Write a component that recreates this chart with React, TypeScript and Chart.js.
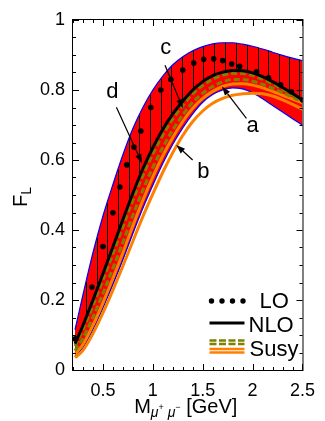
import React, { useEffect, useRef } from "react";
import { Chart, registerables } from "chart.js";

Chart.register(...registerables);

// ---------- data ----------
const X = [0.22, 0.3, 0.4, 0.5, 0.6, 0.7, 0.8, 0.9, 1.0, 1.1, 1.2, 1.3, 1.4, 1.5, 1.6, 1.7, 1.8, 1.9, 2.0, 2.1, 2.2, 2.3, 2.4, 2.5];
const BAND_UPPER = [0.115, 0.215, 0.335, 0.44, 0.53, 0.615, 0.69, 0.75, 0.8, 0.84, 0.872, 0.895, 0.912, 0.924, 0.932, 0.935, 0.935, 0.931, 0.925, 0.917, 0.908, 0.899, 0.891, 0.884];
const BAND_LOWER = [0.04, 0.064, 0.115, 0.177, 0.244, 0.315, 0.39, 0.462, 0.528, 0.59, 0.645, 0.692, 0.732, 0.765, 0.787, 0.8, 0.806, 0.803, 0.792, 0.775, 0.756, 0.737, 0.718, 0.7];
const NLO = [0.075, 0.128, 0.2, 0.275, 0.352, 0.43, 0.505, 0.575, 0.635, 0.688, 0.732, 0.768, 0.8, 0.824, 0.841, 0.851, 0.856, 0.855, 0.849, 0.838, 0.824, 0.807, 0.79, 0.772];
const SUSY_DASH_1 = [0.068, 0.116, 0.184, 0.257, 0.332, 0.409, 0.485, 0.555, 0.617, 0.671, 0.717, 0.755, 0.789, 0.813, 0.831, 0.842, 0.847, 0.847, 0.841, 0.831, 0.818, 0.802, 0.786, 0.77];
const SUSY_DASH_2 = [0.055, 0.091, 0.151, 0.219, 0.291, 0.365, 0.442, 0.514, 0.579, 0.636, 0.686, 0.729, 0.765, 0.791, 0.81, 0.823, 0.83, 0.83, 0.825, 0.816, 0.805, 0.792, 0.779, 0.766];
const SUSY_A = [0.045, 0.073, 0.128, 0.192, 0.262, 0.335, 0.412, 0.485, 0.552, 0.612, 0.664, 0.71, 0.748, 0.776, 0.796, 0.81, 0.817, 0.818, 0.814, 0.806, 0.796, 0.785, 0.774, 0.763];
const SUSY_B = [0.035, 0.056, 0.104, 0.163, 0.228, 0.297, 0.368, 0.438, 0.503, 0.565, 0.621, 0.67, 0.71, 0.74, 0.762, 0.776, 0.785, 0.789, 0.791, 0.789, 0.783, 0.772, 0.759, 0.745];

const LO_X = [0.22, 0.39, 0.5, 0.6, 0.67, 0.74, 0.81, 0.88, 0.98, 1.08, 1.18, 1.3, 1.41, 1.51, 1.61, 1.7, 1.79, 1.87, 2.04, 2.16, 2.28, 2.39, 2.5];
const LO_Y = [0.089, 0.237, 0.353, 0.449, 0.523, 0.586, 0.637, 0.683, 0.75, 0.8, 0.83, 0.857, 0.877, 0.888, 0.889, 0.884, 0.874, 0.868, 0.852, 0.835, 0.815, 0.795, 0.772];

const HATCH_X = [0.33, 0.44, 0.54, 0.65, 0.76, 0.86, 0.97, 1.08, 1.18, 1.29, 1.4, 1.5, 1.61, 1.72, 1.83, 1.94, 2.05, 2.15, 2.26, 2.36, 2.47];

const X_TICKS = [0.5, 1, 1.5, 2, 2.5];
const Y_TICKS = [0, 0.2, 0.4, 0.6, 0.8, 1];

// annotation arrows
const ARROW_LABELS = ["a", "b", "c", "d"];
const ARROW_LABEL_X = [2.0, 1.507, 1.129, 0.595];
const ARROW_LABEL_Y = [0.68, 0.549, 0.903, 0.777];
const ARROW_TAIL_X = [1.938, 1.399, 1.122, 0.635];
const ARROW_TAIL_Y = [0.719, 0.6, 0.871, 0.751];
const ARROW_TIP_X = [1.693, 1.235, 1.301, 0.892];
const ARROW_TIP_Y = [0.81, 0.643, 0.748, 0.591];

const RED = "#ff0000";
const BLUE = "#0000ff";
const OLIVE = "#808000";
const ORANGE = "#ff8000";
const FONT = "'Liberation Sans', Arial, Helvetica, sans-serif";

function pts(ys: number[]) {
  return X.map((x, i) => ({ x, y: ys[i] }));
}

function interp(xs: number[], ys: number[], x: number) {
  if (x <= xs[0]) return ys[0];
  for (let i = 1; i < xs.length; i++) {
    if (x <= xs[i]) {
      const t = (x - xs[i - 1]) / (xs[i] - xs[i - 1]);
      return ys[i - 1] + t * (ys[i] - ys[i - 1]);
    }
  }
  return ys[ys.length - 1];
}

function drawArrow(ctx: CanvasRenderingContext2D, x1: number, y1: number, x2: number, y2: number) {
  const ang = Math.atan2(y2 - y1, x2 - x1);
  const hl = 9;
  const hw = 3.2;
  const bx = x2 - hl * Math.cos(ang);
  const by = y2 - hl * Math.sin(ang);
  ctx.beginPath();
  ctx.moveTo(x1, y1);
  ctx.lineTo(bx, by);
  ctx.stroke();
  ctx.beginPath();
  ctx.moveTo(x2, y2);
  ctx.lineTo(bx + hw * Math.sin(ang), by - hw * Math.cos(ang));
  ctx.lineTo(bx - hw * Math.sin(ang), by + hw * Math.cos(ang));
  ctx.closePath();
  ctx.fill();
}

const decor = {
  id: "decor",
  afterDatasetDraw(chart: any, args: any) {
    if (args.index !== 0) return;
    const { ctx, chartArea: ca } = chart;
    const sx = chart.scales.x;
    const sy = chart.scales.y;
    ctx.save();
    ctx.beginPath();
    ctx.rect(ca.left, ca.top, ca.right - ca.left, ca.bottom - ca.top);
    ctx.clip();
    ctx.strokeStyle = "#000";
    ctx.lineWidth = 1;
    HATCH_X.forEach((hx) => {
      const px = Math.round(sx.getPixelForValue(hx)) + 0.5;
      ctx.beginPath();
      ctx.moveTo(px, sy.getPixelForValue(interp(X, BAND_UPPER, hx)));
      ctx.lineTo(px, sy.getPixelForValue(interp(X, NLO, hx)));
      ctx.stroke();
    });
    ctx.restore();
  },
  afterDraw(chart: any) {
    const { ctx, chartArea: ca } = chart;
    const sx = chart.scales.x;
    const sy = chart.scales.y;
    ctx.save();

    // frame
    ctx.strokeStyle = "#000";
    ctx.lineWidth = 1;
    ctx.strokeRect(ca.left - 0.5, ca.top - 0.5, ca.right - ca.left + 1, ca.bottom - ca.top + 1);

    // ticks (inward, all four sides)
    ctx.beginPath();
    for (let k = 0; k <= 20; k++) {
      const v = k * 0.05;
      const len = k % 4 === 0 ? 6 : 3;
      const py = Math.round(sy.getPixelForValue(v)) + 0.5;
      ctx.moveTo(ca.left, py);
      ctx.lineTo(ca.left + len, py);
      ctx.moveTo(ca.right, py);
      ctx.lineTo(ca.right - len, py);
    }
    for (let k = 2; k <= 25; k++) {
      const v = k * 0.1;
      const len = k % 5 === 0 ? 6 : 3;
      const px = Math.round(sx.getPixelForValue(v)) + 0.5;
      ctx.moveTo(px, ca.bottom);
      ctx.lineTo(px, ca.bottom - len);
      ctx.moveTo(px, ca.top);
      ctx.lineTo(px, ca.top + len);
    }
    ctx.stroke();

    // arrows and letters
    ctx.fillStyle = "#000";
    ctx.strokeStyle = "#000";
    ctx.lineWidth = 1.2;
    ARROW_LABELS.forEach((lab, i) => {
      drawArrow(
        ctx,
        sx.getPixelForValue(ARROW_TAIL_X[i]),
        sy.getPixelForValue(ARROW_TAIL_Y[i]),
        sx.getPixelForValue(ARROW_TIP_X[i]),
        sy.getPixelForValue(ARROW_TIP_Y[i])
      );
      ctx.font = `22px ${FONT}`;
      ctx.textAlign = "center";
      ctx.textBaseline = "alphabetic";
      ctx.fillText(lab, sx.getPixelForValue(ARROW_LABEL_X[i]), sy.getPixelForValue(ARROW_LABEL_Y[i]));
    });

    // legend
    const lx0 = ca.right - 93;
    const lx1 = ca.right - 58;
    for (let k = 0; k < 4; k++) {
      ctx.beginPath();
      ctx.arc(lx0 + 2 + k * 10.5, ca.bottom - 69, 2.7, 0, Math.PI * 2);
      ctx.fill();
    }
    ctx.font = `22px ${FONT}`;
    ctx.textAlign = "left";
    ctx.fillText("LO", ca.right - 43, ca.bottom - 62);
    ctx.lineWidth = 3;
    ctx.beginPath();
    ctx.moveTo(lx0, ca.bottom - 47);
    ctx.lineTo(lx1, ca.bottom - 47);
    ctx.stroke();
    ctx.fillText("NLO", ca.right - 54, ca.bottom - 38);
    ctx.lineWidth = 2.6;
    ctx.strokeStyle = OLIVE;
    ctx.setLineDash([7, 2.5]);
    [ca.bottom - 29.5, ca.bottom - 26].forEach((yy) => {
      ctx.beginPath();
      ctx.moveTo(lx0, yy);
      ctx.lineTo(lx1, yy);
      ctx.stroke();
    });
    ctx.setLineDash([]);
    ctx.strokeStyle = ORANGE;
    [ca.bottom - 21, ca.bottom - 17.5].forEach((yy) => {
      ctx.beginPath();
      ctx.moveTo(lx0, yy);
      ctx.lineTo(lx1, yy);
      ctx.stroke();
    });
    ctx.fillStyle = "#000";
    ctx.fillText("Susy", ca.right - 53, ca.bottom - 14);

    // x-axis title: M_{mu+ mu-} [GeV]
    const base = ca.bottom + 43;
    const parts: [string, string, number][] = [
      ["M", `20px ${FONT}`, 0],
      ["\u03bc", `italic 14px ${FONT}`, 4],
      ["+", `9px ${FONT}`, -3],
      [" ", `14px ${FONT}`, 0],
      ["\u03bc", `italic 14px ${FONT}`, 4],
      ["\u2212", `9px ${FONT}`, -3],
      [" [GeV]", `20px ${FONT}`, 0],
    ];
    let total = 0;
    parts.forEach(([t, f]) => {
      ctx.font = f;
      total += ctx.measureText(t).width;
    });
    let cx = (ca.left + ca.right) / 2 - 2 - total / 2;
    ctx.textAlign = "left";
    parts.forEach(([t, f, dy]) => {
      ctx.font = f;
      ctx.fillText(t, cx, base + dy);
      cx += ctx.measureText(t).width;
    });

    // y-axis title: F_L
    ctx.save();
    ctx.translate(27, (ca.top + ca.bottom) / 2 + 2);
    ctx.rotate(-Math.PI / 2);
    ctx.font = `20px ${FONT}`;
    const wF = ctx.measureText("F").width;
    ctx.font = `14px ${FONT}`;
    const wL = ctx.measureText("L").width;
    const start = -(wF + wL) / 2;
    ctx.font = `20px ${FONT}`;
    ctx.fillText("F", start, 0);
    ctx.font = `14px ${FONT}`;
    ctx.fillText("L", start + wF, 4);
    ctx.restore();

    ctx.restore();
  },
};

export default function App() {
  const ref = useRef<HTMLCanvasElement>(null);
  useEffect(() => {
    const canvas = ref.current!;
    const lineDs = (label: string, ys: number[], color: string, width: number, order: number, extra: any = {}) => ({
      label,
      data: pts(ys),
      showLine: true,
      borderColor: color,
      borderWidth: width,
      pointRadius: 0,
      fill: false,
      cubicInterpolationMode: "monotone",
      order,
      ...extra,
    });
    const chart = new Chart(canvas, {
      type: "scatter",
      data: {
        datasets: [
          lineDs("band upper", BAND_UPPER, BLUE, 1.2, 8, { fill: 1, backgroundColor: RED }),
          lineDs("band lower", BAND_LOWER, BLUE, 1.2, 7),
          lineDs("Susy b", SUSY_B, ORANGE, 3, 6),
          lineDs("Susy a", SUSY_A, ORANGE, 3, 5),
          lineDs("Susy dashed 2", SUSY_DASH_2, OLIVE, 3, 4, { borderDash: [6, 3] }),
          lineDs("Susy dashed 1", SUSY_DASH_1, OLIVE, 3, 3, { borderDash: [6, 3] }),
          lineDs("NLO", NLO, "#000", 3, 2),
          {
            label: "LO",
            data: LO_X.map((x, i) => ({ x, y: LO_Y[i] })),
            showLine: false,
            pointRadius: 2.8,
            pointBorderWidth: 0,
            pointBackgroundColor: "#000",
            order: 1,
          },
        ],
      } as any,
      options: {
        responsive: false,
        animation: false,
        devicePixelRatio: 1,
        layout: { padding: { top: 20, right: 17, left: 0, bottom: 0 } },
        plugins: { legend: { display: false }, tooltip: { enabled: false } },
        scales: {
          x: {
            type: "linear",
            min: 0.2,
            max: 2.5,
            grid: { display: false, drawTicks: false },
            border: { display: false },
            ticks: {
              color: "#000",
              font: { family: FONT, size: 18 },
              padding: 10,
              maxRotation: 0,
              callback: (v: any) => String(v),
            },
            afterBuildTicks: (s: any) => {
              s.ticks = X_TICKS.map((v) => ({ value: v }));
            },
            afterFit: (s: any) => {
              s.height = 51;
            },
          },
          y: {
            type: "linear",
            min: 0,
            max: 1,
            grid: { display: false, drawTicks: false },
            border: { display: false },
            ticks: {
              color: "#000",
              font: { family: FONT, size: 18 },
              padding: 8,
              callback: (v: any) => (v === 0 ? "0" : v === 1 ? "1" : Number(v).toFixed(1)),
            },
            afterBuildTicks: (s: any) => {
              s.ticks = Y_TICKS.map((v) => ({ value: v }));
            },
            afterFit: (s: any) => {
              s.width = 73;
            },
          },
        },
      } as any,
      plugins: [decor],
    });
    return () => chart.destroy();
  }, []);
  return (
    <div style={{ position: "fixed", left: 0, top: 0, width: 325, height: 421, background: "#fff" }}>
      <canvas ref={ref} width={325} height={421} style={{ width: 325, height: 421, display: "block" }} />
    </div>
  );
}
